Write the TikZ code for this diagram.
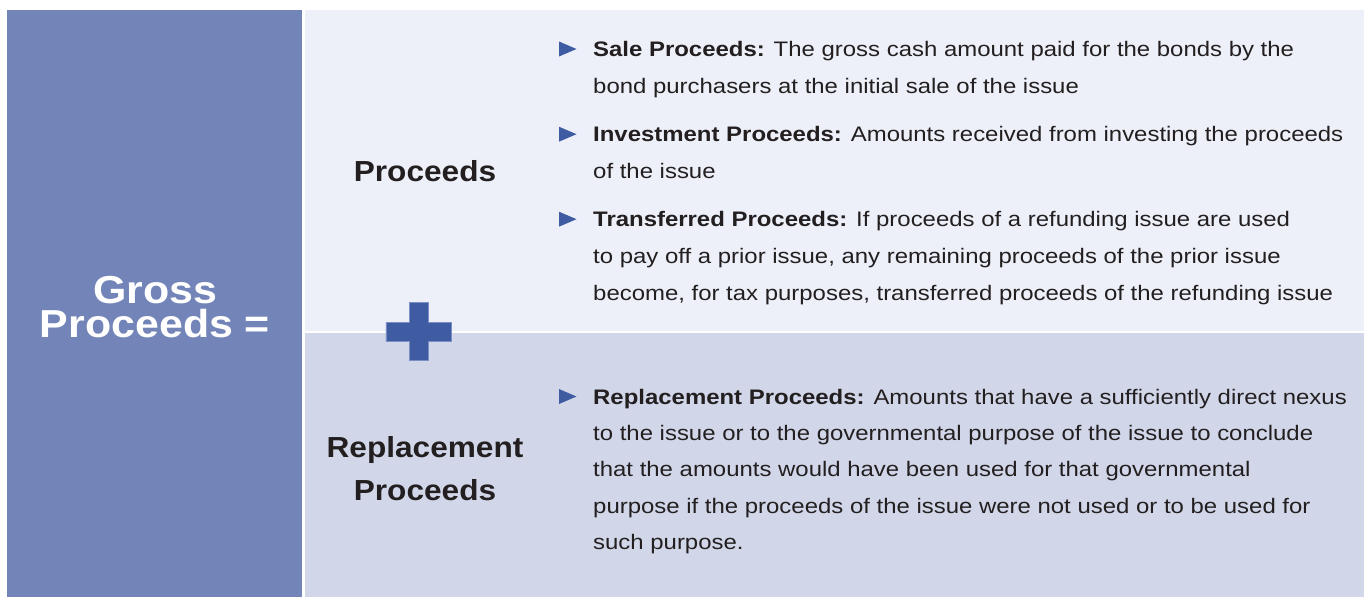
\documentclass[tikz,border=0pt]{standalone}
\usepackage{fontspec}
\setmainfont{Liberation Sans}
\newfontfamily\bodyfont[FakeStretch=1.14]{Liberation Sans}
\newfontfamily\headfont[FakeStretch=1.09]{Liberation Sans}
\newfontfamily\titlefont[FakeStretch=1.10]{Liberation Sans}
\definecolor{leftblue}{HTML}{7385B8}
\definecolor{toppanel}{HTML}{EDF0F8}
\definecolor{botpanel}{HTML}{D1D7E9}
\definecolor{plusblue}{HTML}{3F5CA3}
\definecolor{plusedge}{HTML}{7A8FC6}
\definecolor{txt}{HTML}{231F20}
\tikzset{
  body/.style={anchor=base west, inner sep=0pt, text=txt, font=\bodyfont\fontsize{21}{24}\selectfont},
  heading/.style={anchor=base, inner sep=0pt, text=txt, font=\headfont\fontsize{29}{34}\selectfont\bfseries},
  bigtitle/.style={anchor=base, inner sep=0pt, text=white, align=center,
    font=\titlefont\fontsize{39}{34}\selectfont\bfseries},
}
\begin{document}
\begin{tikzpicture}[x=1pt,y=-1pt]
\path[use as bounding box, fill=white] (0,0) rectangle (1364,597);
% panels
\fill[leftblue] (7,10) rectangle (302,597);
\fill[toppanel] (305,10) rectangle (1364,330.5);
\fill[botpanel] (305,332.5) rectangle (1364,597);
% left title (anchor = baseline of last line)
\node[bigtitle] (gross) at (155,337) {Gross\\Proceeds =};
% headings
\node[heading] (proc) at (425,181.5) {Proceeds};
\node[heading] (repl1) at (425,457) {Replacement};
\node[heading] (repl2) at (425,500) {Proceeds};
% plus sign
\filldraw[fill=plusblue, draw=plusedge, line width=0.6pt]
  (409.5,302.5) -- (427.8,302.5) -- (427.8,322.3) -- (451.6,322.3) -- (451.6,341) -- (427.8,341)
  -- (427.8,360.7) -- (409.5,360.7) -- (409.5,341) -- (385.8,341) -- (385.8,322.3) -- (409.5,322.3) -- cycle;
% bullets
\foreach \b in {56.5,141.7,226.7,404}{
  \fill[plusblue] (559,\b-15) -- (576.5,\b-7.5) -- (559,\b) -- cycle;
}
% Sale proceeds
\node[body] (s1) at (593,56.5) {\textbf{Sale Proceeds:} The gross cash amount paid for the bonds by the};
\node[body] (s2) at (593,93.2) {bond purchasers at the initial sale of the issue};
% Investment
\node[body] (i1) at (593,141.7) {\textbf{Investment Proceeds:} Amounts received from investing the proceeds};
\node[body] (i2) at (593,178.4) {of the issue};
% Transferred
\node[body] (t1) at (593,226.7) {\textbf{Transferred Proceeds:} If proceeds of a refunding issue are used};
\node[body] (t2) at (593,263.4) {to pay off a prior issue, any remaining proceeds of the prior issue};
\node[body] (t3) at (593,300.1) {become, for tax purposes, transferred proceeds of the refunding issue};
% Replacement
\node[body] (r1) at (593,404) {\textbf{Replacement Proceeds:} Amounts that have a sufficiently direct nexus};
\node[body] (r2) at (593,440.3) {to the issue or to the governmental purpose of the issue to conclude};
\node[body] (r3) at (593,476.7) {that the amounts would have been used for that governmental};
\node[body] (r4) at (593,513) {purpose if the proceeds of the issue were not used or to be used for};
\node[body] (r5) at (593,549.3) {such purpose.};
\end{tikzpicture}
\end{document}
